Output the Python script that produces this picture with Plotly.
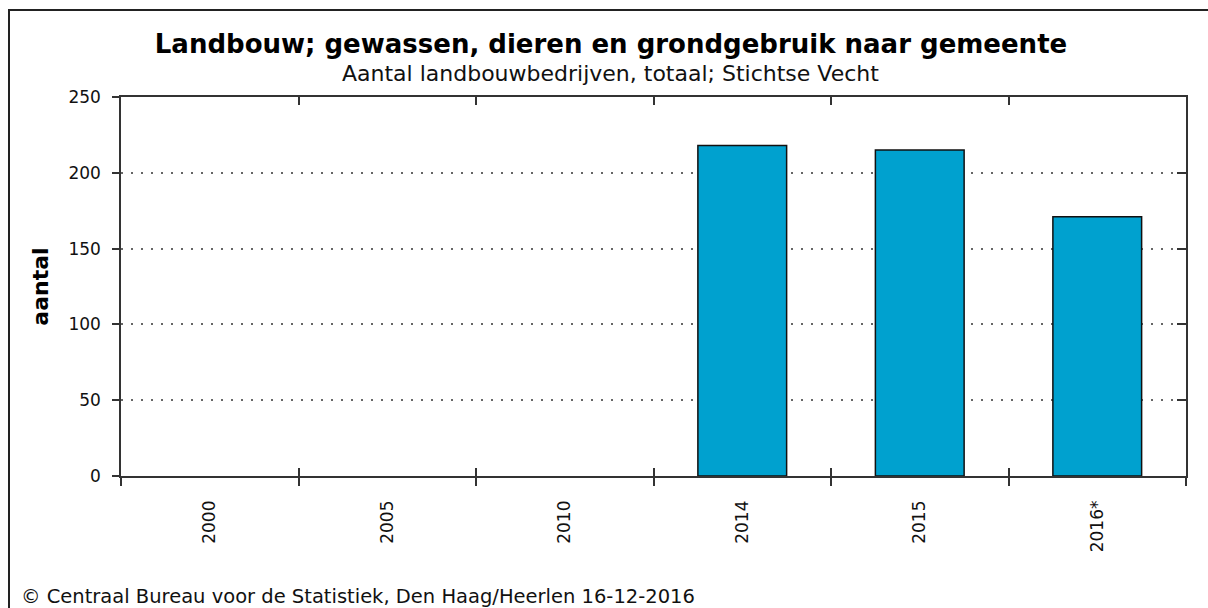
import plotly.graph_objects as go

years = ["2000", "2005", "2010", "2014", "2015", "2016*"]
counts = [None, None, None, 218, 215, 171]
y_ticks = [0, 50, 100, 150, 200, 250]

title_text = "Landbouw; gewassen, dieren en grondgebruik naar gemeente"
subtitle_text = "Aantal landbouwbedrijven, totaal; Stichtse Vecht"
footer_text = "© Centraal Bureau voor de Statistiek, Den Haag/Heerlen 16-12-2016"

FONT = "DejaVu Sans"
W, H = 1208, 608
ML, MR, MT, MB = 121, 22, 97, 132
PW, PH = W - ML - MR, H - MT - MB

def px_x(x):
    return (x - ML) / PW

def px_y(y):
    return (H - MB - y) / PH

fig = go.Figure()
fig.add_trace(go.Bar(
    x=years, y=counts,
    marker=dict(color="#00A1CF", line=dict(color="#111111", width=1.5)),
    width=0.5, showlegend=False, hoverinfo="x+y",
))
# helper trace so the overlay axes (mirror ticks) are drawn
fig.add_trace(go.Scatter(
    x=years, y=counts, xaxis="x2", yaxis="y2", mode="markers",
    marker=dict(opacity=0), showlegend=False, hoverinfo="skip",
))

axis_line = "#333333"
tick_font = dict(family=FONT, size=17, color="#111111")

fig.update_layout(
    width=W, height=H,
    margin=dict(l=ML, r=MR, t=MT, b=MB, pad=0),
    paper_bgcolor="white", plot_bgcolor="white",
    font=dict(family=FONT, color="#111111"),
    title=dict(
        text="<b>" + title_text + "</b>",
        font=dict(family=FONT, size=26, color="#000000"),
        x=611 / W, xref="container", xanchor="center",
        y=1 - 44 / H, yref="container", yanchor="middle",
    ),
    xaxis=dict(
        type="category", categoryorder="array", categoryarray=years,
        range=[-0.5, len(years) - 0.5],
        showline=True, linecolor=axis_line, linewidth=1.5, mirror=True,
        ticks="outside", ticklen=8, tickwidth=1.5, tickcolor=axis_line,
        tickson="boundaries", tickangle=-90,
        tickfont=tick_font, ticklabelstandoff=16,
        showgrid=False, zeroline=False,
    ),
    xaxis2=dict(
        type="category", categoryorder="array", categoryarray=years,
        range=[-0.5, len(years) - 0.5],
        overlaying="x", anchor="y", side="bottom",
        showline=True, linecolor=axis_line, linewidth=1.5, mirror="ticks",
        ticks="inside", ticklen=8, tickwidth=1.5, tickcolor=axis_line,
        tickson="boundaries", showticklabels=False,
        showgrid=False, zeroline=False,
    ),
    yaxis=dict(
        range=[0, 250], tickvals=y_ticks,
        showline=True, linecolor=axis_line, linewidth=1.5, mirror=True,
        ticks="outside", ticklen=7, tickwidth=1.5, tickcolor=axis_line,
        tickfont=tick_font, ticklabelstandoff=8,
        showgrid=True, gridcolor="#666666", gridwidth=1.5, griddash="2px,8px",
        zeroline=False,
        title=dict(text="<b>aantal</b>", font=dict(family=FONT, size=22, color="#000000"), standoff=14),
    ),
    yaxis2=dict(
        range=[0, 250], tickvals=y_ticks,
        overlaying="y", anchor="x", side="right",
        showline=True, linecolor=axis_line, linewidth=1.5,
        ticks="inside", ticklen=9, tickwidth=1.5, tickcolor=axis_line,
        showticklabels=False, showgrid=False, zeroline=False,
    ),
    bargap=0.5,
)

fig.add_annotation(
    text=subtitle_text, xref="paper", yref="paper",
    x=px_x(610), y=px_y(73), xanchor="center", yanchor="middle",
    showarrow=False, font=dict(family=FONT, size=22, color="#111111"),
)
fig.add_annotation(
    text=footer_text, xref="paper", yref="paper",
    x=px_x(19), y=px_y(596), xanchor="left", yanchor="middle",
    showarrow=False, font=dict(family=FONT, size=19.5, color="#111111"),
)
fig.add_shape(
    type="rect", xref="paper", yref="paper",
    x0=px_x(9), x1=px_x(1300), y0=px_y(700), y1=px_y(10),
    line=dict(color="#222222", width=2), fillcolor="rgba(0,0,0,0)",
)

fig.write_html(
    "out.html",
    config={"displayModeBar": False},
    post_script="document.body.style.margin='0';document.body.style.overflow='hidden';",
)
